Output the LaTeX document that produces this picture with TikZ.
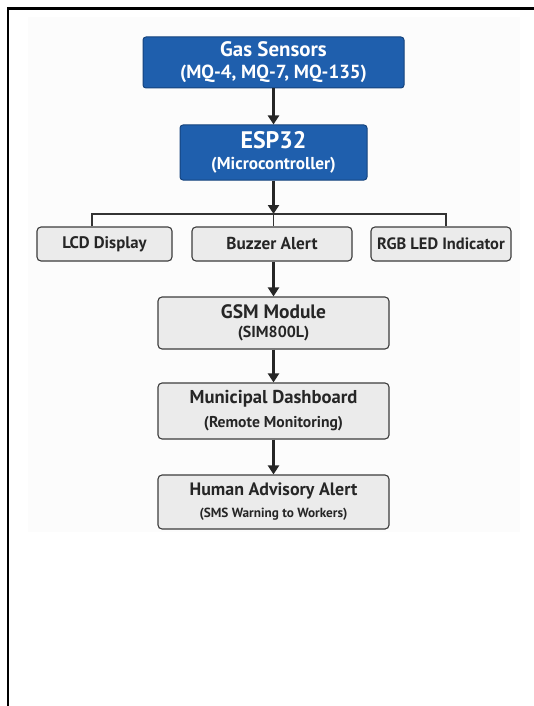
\documentclass[tikz,border=0pt]{standalone}
\usepackage{fontspec}
\setmainfont{PT Sans}
\usetikzlibrary{arrows.meta}

\definecolor{blueface}{HTML}{1F5FAD}
\definecolor{blueedge}{HTML}{15437D}
\definecolor{grayface}{HTML}{EBEBEB}
\definecolor{grayedge}{HTML}{3C3C3C}
\definecolor{paper}{HTML}{FCFCFC}

\tikzset{
	bluebox/.style={draw=blueedge, fill=blueface, text=white, rounded corners=3bp, line width=1bp, align=center, inner sep=0pt, font=\bfseries},
	graybox/.style={draw=grayedge, fill=grayface, text=black!85, rounded corners=4bp, line width=1.1bp, align=center, inner sep=0pt, font=\bfseries},
	flow/.style={line width=2.2bp, draw=black!85, -{Triangle[length=9bp,width=11bp]}},
	busline/.style={line width=1.3bp, draw=black!80}
}

\begin{document}
\begin{tikzpicture}[x=1bp,y=-1bp]
	\useasboundingbox (0,0) rectangle (534,706);
	\fill[paper] (28,17) rectangle (520,532);
	\draw[line width=2.5bp] (8,706) -- (8,8.5) -- (534,8.5);

	\draw (273.5,62.5) node[bluebox, minimum width=261bp, minimum height=51bp] (gas)
		{\fontsize{21}{21}\selectfont Gas Sensors\\[7bp]\fontsize{19}{19}\selectfont (MQ-4, MQ-7, MQ-135)};
	\draw (273.5,152.5) node[bluebox, minimum width=187bp, minimum height=55bp] (esp)
		{\fontsize{24}{24}\selectfont ESP32\\[7bp]\fontsize{17.3}{17.3}\selectfont (Microcontroller)};

	\draw (104.5,244) node[graybox, minimum width=135bp, minimum height=34bp] (lcd) {\fontsize{16.8}{16.8}\selectfont LCD Display};
	\draw (272,244) node[graybox, minimum width=160bp, minimum height=34bp] (buzzer) {\fontsize{17.3}{17.3}\selectfont Buzzer Alert};
	\draw (441,244) node[graybox, minimum width=140bp, minimum height=34bp] (rgb) {\fontsize{16.5}{16.5}\selectfont RGB LED Indicator};

	\draw (273.5,323) node[graybox, minimum width=231bp, minimum height=52bp] (gsm)
		{\fontsize{19.5}{19.5}\selectfont GSM Module\\[7bp]\fontsize{16}{16}\selectfont (SIM800L)};
	\draw (273.5,411) node[graybox, minimum width=231bp, minimum height=56bp] (dashboard)
		{\fontsize{18.7}{18.7}\selectfont Municipal Dashboard\\[8bp]\fontsize{15.7}{15.7}\selectfont (Remote Monitoring)};
	\draw (273.5,502) node[graybox, minimum width=231bp, minimum height=54bp] (advisory)
		{\fontsize{18}{18}\selectfont Human Advisory Alert\\[8bp]\fontsize{13.3}{13.3}\selectfont (SMS Warning to Workers)};

	\coordinate (hub) at (273.5,214);
	\coordinate (busL) at (92,214);
	\coordinate (busR) at (446,214);

	\draw[flow] (gas) -- (esp);
	\draw[flow] (esp) -- (hub);
	\draw[busline] (busL |- lcd.north) -- (busL) -- (busR) -- (busR |- rgb.north);
	\draw[busline] (hub) -- (hub |- buzzer.north);
	\draw[flow] (gsm |- buzzer.south) -- (gsm.north);
	\draw[flow] (gsm) -- (dashboard);
	\draw[flow] (dashboard) -- (advisory);
\end{tikzpicture}
\end{document}
